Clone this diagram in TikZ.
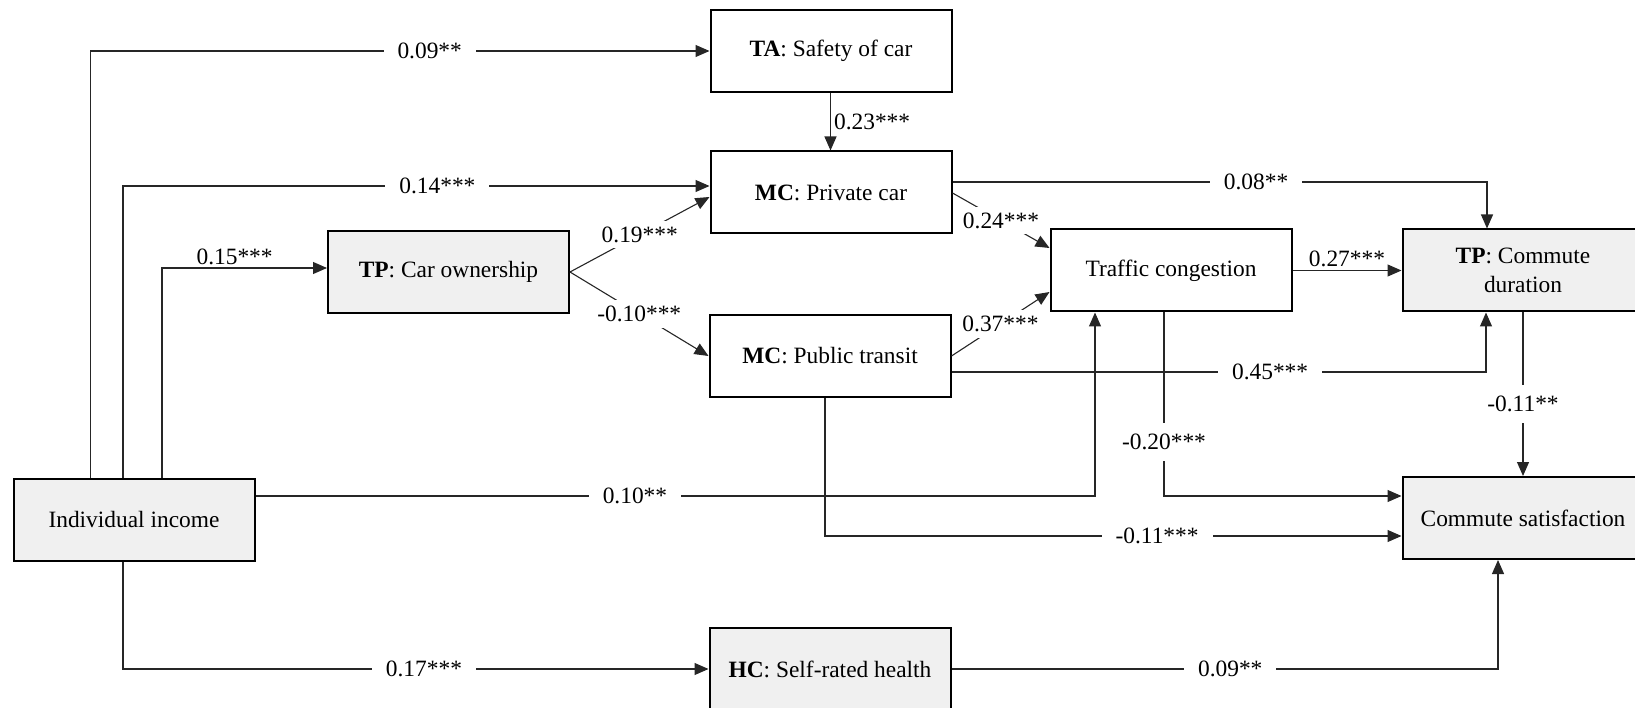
\documentclass[tikz,border=0pt]{standalone}
\usepackage{fontspec}
\setmainfont{Liberation Serif}
\usetikzlibrary{arrows.meta}
\tikzset{
	box/.style={draw, line width=2pt, minimum width=241pt, minimum height=82pt, inner sep=0pt, align=center},
	shade/.style={box, fill=black!6},
	link/.style={line width=1.1pt, draw=black!85, -{Triangle[length=14pt,width=12pt]}},
	lab/.style={fill=white, inner xsep=14pt, inner ysep=11pt},
	dlab/.style={fill=white, inner sep=6pt},
}

\begin{document}
\begin{tikzpicture}[x=1pt, y=-1pt, font=\fontsize{23.4}{28.5}\selectfont]
		%%%%% START %%%%%
		
		\clip (0, 0) rectangle (1635, 708);
		
		\node[box] (ta) at (831, 51) {\textbf{TA}: Safety of car};
		\node[box] (mccar) at (831, 192.5) {\textbf{MC}: Private car};
		\node[shade] (tpown) at (448.5, 272) {\textbf{TP}: Car ownership};
		\node[box] (mcpub) at (830, 356) {\textbf{MC}: Public transit};
		\node[box] (traffic) at (1171, 270.5) {Traffic congestion};
		\node[shade] (tpdur) at (1523, 270.5) {\textbf{TP}: Commute\\duration};
		\node[shade] (inc) at (134, 519.5) {Individual income};
		\node[shade] (sat) at (1523, 518) {Commute satisfaction};
		\node[shade] (hc) at (830, 669) {\textbf{HC}: Self-rated health};
		
		\draw[link] ([xshift=-43.5pt]inc.north) |- node[lab, pos=0.774] {0.09**} (ta);
		\draw[link] ([xshift=-11pt]inc.north) |- node[lab, pos=0.768] {0.14***} ([yshift=6.5pt]mccar.west);
		\draw[link] ([xshift=28pt]inc.north) |- node[above, inner sep=3pt, pos=0.72] {0.15***} ([yshift=4pt]tpown.west);
		\draw[link] ([xshift=-0.5pt]ta.south) -- node[right, inner sep=3pt] {0.23***} ([xshift=-0.5pt]mccar.north);
		
		\draw[link] (tpown.east) -- node[dlab] {0.19***} ([yshift=-4.5pt]mccar.west);
		\draw[link] (tpown.east) -- node[dlab] {-0.10***} (mcpub.west);
		\draw[link] ([yshift=-0.5pt]mccar.east) -- node[dlab] {0.24***} ([yshift=22.5pt]traffic.west);
		\draw[link] (mcpub.east) -- node[dlab] {0.37***} ([yshift=-21.5pt]traffic.west);
		
		\draw[link] ([yshift=10.5pt]mccar.east) -| node[lab, pos=0.284] {0.08**} ([xshift=-36pt]tpdur.north);
		\draw[link] (traffic.east) -- node[above, inner sep=3pt] {0.27***} (tpdur.west);
		\draw[link] ([yshift=-16pt]mcpub.east) -| node[lab, pos=0.298] {0.45***} ([xshift=-37pt]tpdur.south);
		\draw[link] ([yshift=23.5pt]inc.east) -| node[lab, pos=0.226] {0.10**} ([xshift=-76pt]traffic.south);
		
		\draw[link] ([xshift=-7pt]traffic.south) |- node[lab, pos=0.353] {-0.20***} ([yshift=22pt]sat.west);
		\draw[link] ([xshift=-5pt]mcpub.south) |- node[lab, pos=0.788] {-0.11***} ([yshift=-18pt]sat.west);
		\draw[link] (tpdur.south) -- node[lab, pos=0.557] {-0.11**} (sat.north);
		
		\draw[link] ([xshift=-11pt]inc.south) |- node[lab, pos=0.757] {0.17***} (hc);
		\draw[link] (hc) -| node[lab, pos=0.255] {0.09**} ([xshift=-25pt]sat.south);
		
		%%%%% END %%%%%
	\end{tikzpicture}
\end{document}
